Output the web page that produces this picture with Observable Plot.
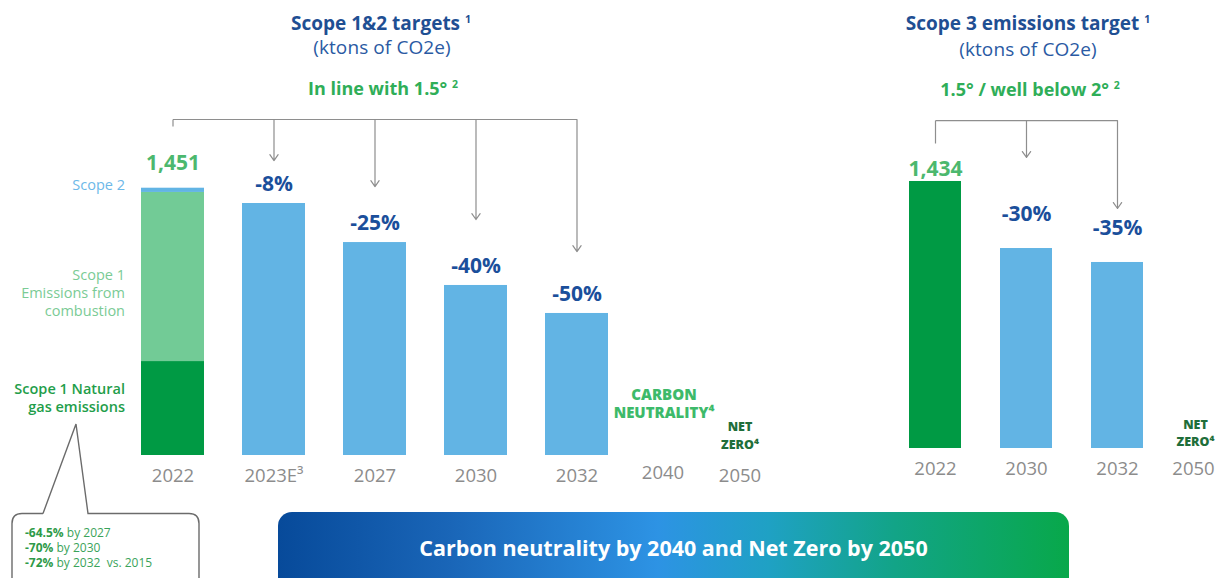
<!DOCTYPE html>
<html>
<head>
<meta charset="utf-8">
<script src="https://cdn.jsdelivr.net/npm/d3@7"></script>
<script src="https://cdn.jsdelivr.net/npm/@observablehq/plot@0.6"></script>
<style>
  body { margin: 0; background: #fff; }
  #page { position: relative; width: 1219px; height: 578px; overflow: hidden; background: #fff;
          font-family: "Open Sans", "Noto Sans", sans-serif; }
  .abs { position: absolute; white-space: nowrap; }
  .ctr { transform: translateX(-50%); text-align: center; }
  .t1 { font-weight: 700; font-size: 19px; line-height: 22px; color: #1f4f93; }
  .t2 { font-weight: 400; font-size: 19px; line-height: 22px; color: #2a5aa3; letter-spacing: 0.1px; }
  .t3 { font-weight: 700; font-size: 18px; line-height: 22px; color: #2fae58; }
  sup { font-size: 10.5px; vertical-align: 7px; line-height: 0; }
  .lg { left: 0; width: 125px; text-align: right; font-size: 14.5px; line-height: 18px; }
  #banner { left: 278px; top: 512px; width: 791px; height: 90px; border-radius: 14px;
            background: linear-gradient(90deg, #074a9a 0%, #1a66b8 22%, #2d93e4 48%, #1fa1c4 62%, #12a487 78%, #08a84a 100%); }
  #banner div { position: absolute; left: 0; right: 0; top: 21px; text-align: center; color: #fff;
                font-weight: 700; font-size: 21.5px; line-height: 30px; }
  #left svg, #right svg { max-width: none !important; }
</style>
</head>
<body>
<div id="page">
  <div class="abs ctr t1" style="left:381px;top:12px">Scope 1&amp;2 targets <sup>1</sup></div>
  <div class="abs ctr t2" style="left:382px;top:36px">(ktons of CO2e)</div>
  <div class="abs ctr t3" style="left:383px;top:77px">In line with 1.5° <sup>2</sup></div>

  <div class="abs ctr t1" style="left:1028px;top:12px">Scope 3 emissions target <sup>1</sup></div>
  <div class="abs ctr t2" style="left:1028px;top:38px">(ktons of CO2e)</div>
  <div class="abs ctr t3" style="left:1030px;top:78px">1.5° / well below 2° <sup>2</sup></div>

  <div class="abs lg" style="top:176px;color:#6db8e8">Scope 2</div>
  <div class="abs lg" style="top:266px;color:#7acb95">Scope 1<br>Emissions from<br>combustion</div>
  <div class="abs lg" style="top:380px;color:#1f9e4a;font-weight:600">Scope 1 Natural<br>gas emissions</div>

  <div id="left" class="abs" style="left:0;top:0;width:849px"></div>
  <div id="right" class="abs" style="left:800px;top:0;width:475px"></div>

  <svg class="abs" style="left:0;top:0" width="1219" height="578">
    <path d="M43,513.5 L76,424 L88,513.5 L189,513.5 Q199,513.5 199,523.5 L199,600 M12,600 L12,523.5 Q12,513.5 22,513.5 L43,513.5"
          fill="none" stroke="#6b6b6b" stroke-width="1.4"/>
    <g font-size="12" fill="#3aa35a" font-family="'Open Sans', sans-serif">
      <text x="25" y="537"><tspan font-weight="700" fill="#2e9a48">-64.5%</tspan> by 2027</text>
      <text x="25" y="552"><tspan font-weight="700" fill="#2e9a48">-70%</tspan> by 2030</text>
      <text x="25" y="567"><tspan font-weight="700" fill="#2e9a48">-72%</tspan> by 2032&#160;&#160;vs. 2015</text>
    </g>
  </svg>

  <div id="banner" class="abs"><div>Carbon neutrality by 2040 and Net Zero by 2050</div></div>
</div>

<script>
// ---------- data ----------
const leftYears = ["2022", "2023E", "2027", "2030", "2032"];
const leftTickLabels = ["2022", "2023E³", "2027", "2030", "2032"];
const leftMilestoneYears = ["2040", "2050"];
const stackParts = ["Scope 1 Natural gas emissions", "Scope 1 Emissions from combustion", "Scope 2"];
const stack2022Values = [510, 918, 23];
const leftTotal2022 = 1451;
const leftTargetYears = ["2023E", "2027", "2030", "2032"];
const leftTargetValues = [1368, 1156, 923, 771];
const leftTargetLabels = ["-8%", "-25%", "-40%", "-50%"];

const rightYears = ["2022", "2030", "2032"];
const rightValues = [1434, 1074, 999];
const rightLabels = ["1,434", "-30%", "-35%"];
const rightMilestoneYears = ["2050"];

// ---------- styles ----------
const FONT = "'Open Sans', 'Noto Sans', sans-serif";
const BLUE_BAR = "#62b4e4";
const GREEN_DARK = "#009a44";
const GREEN_LIGHT = "#72cb96";
const LABEL_BLUE = "#1b4f9b";
const LABEL_GREEN = "#4cb86e";
const TICK_GRAY = "#8c8c8c";
const ARROW_GRAY = "#8e8e8e";

const stackRows = stackParts.map((part, i) => ({year: "2022", part, value: stack2022Values[i]}));
const leftTargets = leftTargetYears.map((year, i) => ({year, value: leftTargetValues[i], label: leftTargetLabels[i]}));
const leftTicks = leftYears.map((year, i) => ({year, label: leftTickLabels[i]}));
const rightRows = rightYears.map((year, i) => ({year, value: rightValues[i], label: rightLabels[i]}));

// annotation levels (in ktons, on each panel's y scale)
const leftBracket = 1824, leftBracketStub = 1786;
const leftArrowTips = [1601, 1460, 1281, 1107];
const rightBracket = 1761, rightBracketStub = 1638;
const rightArrowTips = [1563, 1289];

const neutralityStyle = {fontSize: 15, fontWeight: 800, letterSpacing: -0.3, lineHeight: 1.2};
const netZeroStyle = {fontSize: 12.5, fontWeight: 800, letterSpacing: 0.3, lineHeight: 1.38};

const left = Plot.plot({
  width: 849, height: 500,
  marginLeft: 101, marginRight: 0, marginTop: 0, marginBottom: 45,
  x: {domain: [...leftYears, ...leftMilestoneYears], padding: 0.38, axis: null},
  y: {domain: [0, 2470], axis: null},
  color: {domain: stackParts, range: [GREEN_DARK, GREEN_LIGHT, BLUE_BAR]},
  style: {fontFamily: FONT, overflow: "visible", background: "transparent", maxWidth: "none"},
  marks: [
    Plot.barY(stackRows, {x: "year", y: "value", fill: "part", order: stackParts}),
    Plot.barY(leftTargets, {x: "year", y: "value", fill: BLUE_BAR}),
    Plot.text([{year: "2022", value: leftTotal2022}], {x: "year", y: "value", text: d => d3.format(",")(d.value),
      lineAnchor: "middle", dy: -25, fill: LABEL_GREEN, fontSize: 21, fontWeight: 700}),
    Plot.text(leftTargets, {x: "year", y: "value", text: "label", lineAnchor: "middle", dy: -19,
      fill: LABEL_BLUE, fontSize: 21, fontWeight: 700}),
    Plot.text(leftTicks, {x: "year", y: () => 0, text: "label", lineAnchor: "middle", dy: 21,
      fill: TICK_GRAY, fontSize: 18.5}),
    // milestones
    Plot.text(["2040"], {x: d => d, y: () => 0, text: d => d, lineAnchor: "middle", dy: 18, dx: -15,
      fill: TICK_GRAY, fontSize: 18.5}),
    Plot.text(["2050"], {x: d => d, y: () => 0, text: d => d, lineAnchor: "middle", dy: 21, dx: -39,
      fill: TICK_GRAY, fontSize: 18.5}),
    Plot.text(["2040"], {x: d => d, y: () => 0, text: () => "CARBON\nNEUTRALITY⁴", lineAnchor: "middle",
      dy: -52, dx: -14, fill: "#3dba6a", ...neutralityStyle}),
    Plot.text(["2050"], {x: d => d, y: () => 0, text: () => "NET\nZERO⁴", lineAnchor: "middle",
      dy: -21, dx: -39, fill: "#1f6e3a", ...netZeroStyle}),
    // bracket and arrows
    Plot.link([0], {x1: () => "2022", x2: () => "2032", y1: () => leftBracket, y2: () => leftBracket,
      stroke: ARROW_GRAY, strokeWidth: 1.2}),
    Plot.link([0], {x1: () => "2022", x2: () => "2022", y1: () => leftBracket, y2: () => leftBracketStub,
      stroke: ARROW_GRAY, strokeWidth: 1.2}),
    Plot.arrow(leftTargetYears, {x1: d => d, x2: d => d, y1: () => leftBracket, y2: (d, i) => leftArrowTips[i],
      stroke: ARROW_GRAY, strokeWidth: 1.2, headLength: 9, headAngle: 70, bend: false})
  ]
});
document.getElementById("left").append(left);

const right = Plot.plot({
  width: 475, height: 500,
  marginLeft: 68.3, marginRight: 0, marginTop: 0, marginBottom: 52,
  x: {domain: [...rightYears, ...rightMilestoneYears], padding: 0.433, axis: null},
  y: {domain: [0, 2406], axis: null},
  style: {fontFamily: FONT, overflow: "visible", background: "transparent", maxWidth: "none"},
  marks: [
    Plot.barY(rightRows, {x: "year", y: "value", fill: (d, i) => i === 0 ? GREEN_DARK : BLUE_BAR}),
    Plot.text(rightRows.slice(0, 1), {x: "year", y: "value", text: "label", lineAnchor: "middle", dy: -12,
      fill: LABEL_GREEN, fontSize: 21, fontWeight: 700}),
    Plot.text(rightRows.slice(1), {x: "year", y: "value", text: "label", lineAnchor: "middle", dy: -34,
      fill: LABEL_BLUE, fontSize: 21, fontWeight: 700}),
    Plot.text(rightYears, {x: d => d, y: () => 0, text: d => d, lineAnchor: "middle", dy: 21,
      fill: TICK_GRAY, fontSize: 18.5}),
    Plot.text(rightMilestoneYears, {x: d => d, y: () => 0, text: d => d, lineAnchor: "middle", dy: 21, dx: -15,
      fill: TICK_GRAY, fontSize: 18.5}),
    Plot.text(rightMilestoneYears, {x: d => d, y: () => 0, text: () => "NET\nZERO⁴", lineAnchor: "middle",
      dy: -16.5, dx: -13, fill: "#1f6e3a", ...netZeroStyle}),
    Plot.link([0], {x1: () => "2022", x2: () => "2032", y1: () => rightBracket, y2: () => rightBracket,
      stroke: ARROW_GRAY, strokeWidth: 1.2}),
    Plot.link([0], {x1: () => "2022", x2: () => "2022", y1: () => rightBracket, y2: () => rightBracketStub,
      stroke: ARROW_GRAY, strokeWidth: 1.2}),
    Plot.arrow(["2030", "2032"], {x1: d => d, x2: d => d, y1: () => rightBracket, y2: (d, i) => rightArrowTips[i],
      stroke: ARROW_GRAY, strokeWidth: 1.2, headLength: 9, headAngle: 70, bend: false})
  ]
});
document.getElementById("right").append(right);
</script>
</body>
</html>
